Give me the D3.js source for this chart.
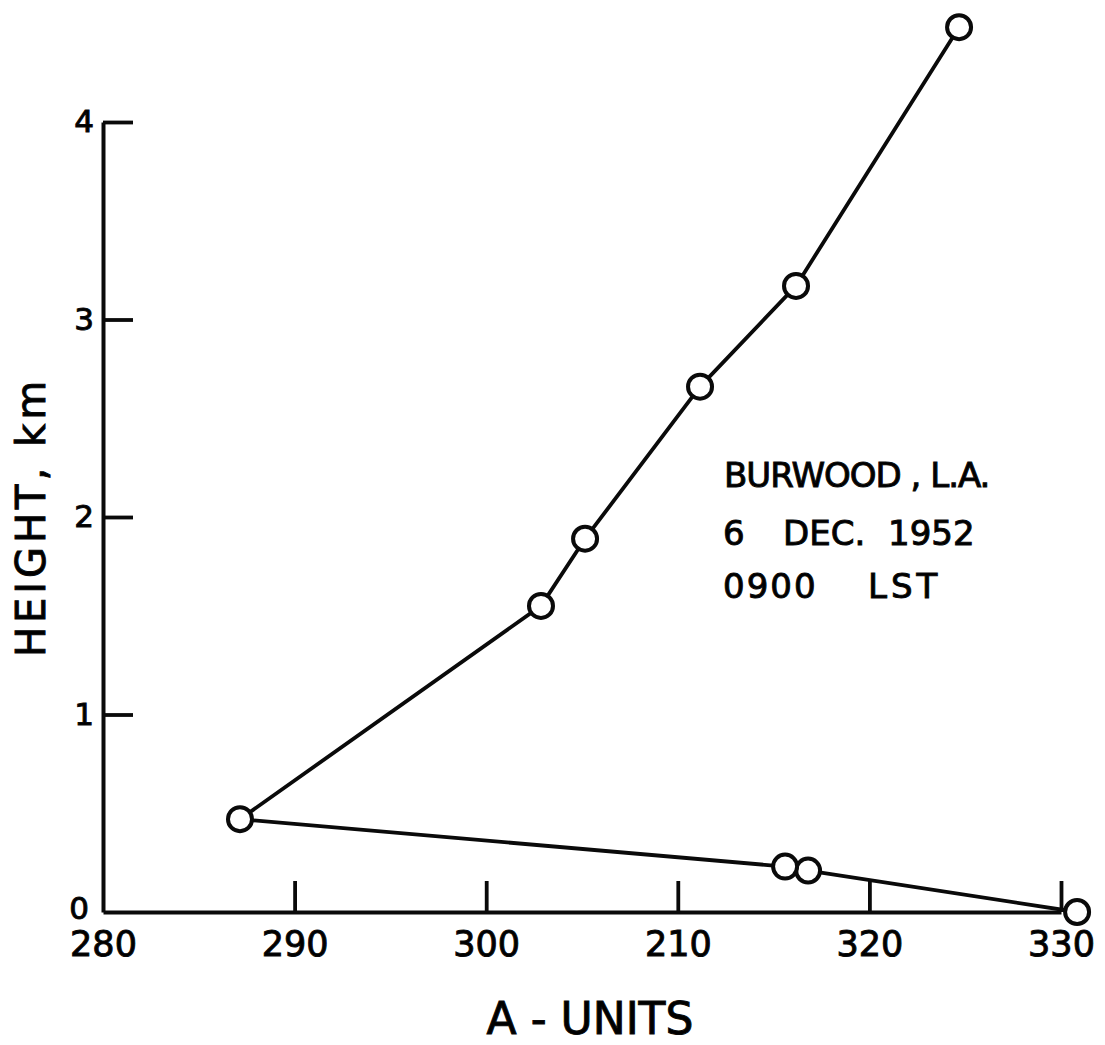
<!DOCTYPE html>
<html>
<head>
<meta charset="utf-8">
<script src="https://cdn.jsdelivr.net/npm/d3@7"></script>
<style>
  html, body { margin: 0; padding: 0; background: #fff; }
  svg { display: block; }
  text { font-family: "DejaVu Sans", sans-serif; fill: #000; }
</style>
</head>
<body>
<svg id="chart" width="1105" height="1045"></svg>
<script>
// ---- data ----
const aUnits   = [330.84, 316.8, 315.6, 287.15, 302.86, 305.16, 311.16, 316.17, 324.68];
const heightKm = [0.0,    0.21,  0.23,  0.47,   1.55,   1.89,   2.66,   3.17,   4.48];
const xTickValues = [280, 290, 300, 310, 320, 330];
const xTickLabels = ["280", "290", "300", "210", "320", "330"];
const yTickValues = [0, 1, 2, 3, 4];
const yTickLabels = ["0", "1", "2", "3", "4"];
const annotation = [["BURWOOD , L.A."], ["6", "DEC.", "1952"], ["0900", "LST"]];

const svg = d3.select("#chart");
const x = d3.scaleLinear().domain([280, 330]).range([103, 1061]);
const y = d3.scaleLinear().domain([0, 4]).range([912, 122]);

const ink = "#0a0a0a";

// x axis
const xAxis = svg.append("g")
  .attr("transform", `translate(0,${y(0)})`)
  .call(d3.axisBottom(x).tickValues(xTickValues)
    .tickFormat((d, i) => xTickLabels[i])
    .tickSizeInner(-31).tickSizeOuter(0).tickPadding(19));
xAxis.select(".domain").attr("stroke", ink).attr("stroke-width", 4);
xAxis.selectAll(".tick line").attr("stroke", ink).attr("stroke-width", 3.8);
xAxis.selectAll(".tick").filter(d => d === 280).select("line").remove();
xAxis.selectAll(".tick text").attr("font-size", 35).attr("font-family", "DejaVu Sans")
  .attr("fill", ink).attr("stroke", ink).attr("stroke-width", 1);

// y axis
const yAxis = svg.append("g")
  .attr("transform", `translate(${x(280)},0)`)
  .call(d3.axisLeft(y).tickValues(yTickValues)
    .tickFormat((d, i) => yTickLabels[i])
    .tickSizeInner(-30).tickSizeOuter(0).tickPadding(9));
yAxis.select(".domain").attr("stroke", ink).attr("stroke-width", 4);
yAxis.selectAll(".tick line").attr("stroke", ink).attr("stroke-width", 3.8);
yAxis.selectAll(".tick").filter(d => d === 0).select("line").remove();
yAxis.selectAll(".tick text").attr("font-size", 31).attr("font-family", "DejaVu Sans")
  .attr("fill", ink).attr("stroke", ink).attr("stroke-width", 1);
yAxis.selectAll(".tick").filter(d => d === 0).select("text").attr("x", -14).attr("dy", "0.2em");

// profile line
const pts = aUnits.map((a, i) => [a, heightKm[i]]);
svg.append("path")
  .datum(pts)
  .attr("fill", "none")
  .attr("stroke", ink)
  .attr("stroke-width", 3.8)
  .attr("stroke-linejoin", "round")
  .attr("d", d3.line().x(d => x(d[0])).y(d => y(d[1])));

// circles
svg.selectAll("circle.pt")
  .data(pts)
  .join("circle")
  .attr("class", "pt")
  .attr("cx", d => x(d[0]))
  .attr("cy", d => y(d[1]))
  .attr("r", 12)
  .attr("fill", "#fff")
  .attr("stroke", ink)
  .attr("stroke-width", 4);

// annotation
const ann = svg.append("g").attr("font-size", 34).attr("fill", ink)
  .attr("stroke", ink).attr("stroke-width", 1);
const lineY = [487, 545, 598];
const wordX = [[724], [723, 783, 888], [723, 868]];
const wordLS = [[-1], [0, 0, 0], [2, 4]];
annotation.forEach((words, li) => {
  words.forEach((w, wi) => {
    ann.append("text").attr("x", wordX[li][wi]).attr("y", lineY[li])
      .attr("letter-spacing", wordLS[li][wi]).text(w);
  });
});

// axis titles
svg.append("text")
  .attr("x", 590).attr("y", 1034)
  .attr("text-anchor", "middle")
  .attr("font-size", 44)
  .attr("stroke", ink).attr("stroke-width", 1)
  .text("A - UNITS");

svg.append("text")
  .attr("transform", `translate(45,517) rotate(-90)`)
  .attr("text-anchor", "middle")
  .attr("font-size", 40)
  .attr("letter-spacing", 4)
  .attr("stroke", ink).attr("stroke-width", 1)
  .text("HEIGHT, km");
</script>
</body>
</html>
